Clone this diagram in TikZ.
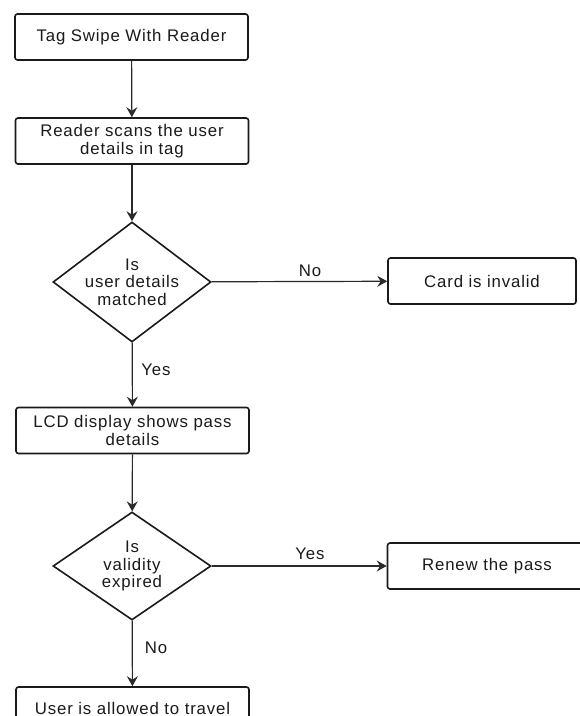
\documentclass[tikz,border=0pt]{standalone}
\usepackage{fontspec}
\setmainfont{Liberation Sans}[LetterSpace=5]
\usetikzlibrary{shapes.geometric,arrows.meta}
\definecolor{ink}{HTML}{1A1A1A}
\definecolor{wire}{HTML}{2A2A2A}
\begin{document}
\begin{tikzpicture}[x=1pt,y=-1pt,
  every node/.style={font=\fontsize{16.8}{17.5}\selectfont, text=ink},
  procbox/.style={draw=ink, line width=1.6pt, rounded corners=2.5pt, fill=white,
    minimum width=233pt, minimum height=46pt, align=center, inner sep=0pt},
  decision/.style={draw=ink, line width=1.6pt, shape=diamond, fill=white,
    minimum width=158pt, minimum height=120pt, align=center, inner sep=-16pt, aspect=1.3},
  flow/.style={draw=wire, line width=1.2pt, -{Stealth[length=10pt,width=11pt,inset=3.5pt]}},
  lbl/.style={inner sep=1pt, fill=none}]
\useasboundingbox (0,0) rectangle (580,716);
\clip (0,0) rectangle (580,716);
\node[procbox] (b1) at (131.5,37) {Tag Swipe With Reader};
\node[procbox] (b2) at (132,141) {Reader scans the user\\details in tag};
\node[decision] (d1) at (132,282) {Is\\user details\\matched};
\node[procbox, minimum width=188pt] (inv) at (482,281) {Card is invalid};
\node[procbox] (b3) at (132.5,430.5) {LCD display shows pass\\details};
\node[decision, minimum height=108pt] (d2) at (132,566) {Is\\validity\\expired};
\node[procbox] (ren) at (504,566) {\hspace*{-34pt}Renew the pass};
\node[procbox] (b4) at (132.5,710) {\raisebox{2.5pt}{User is allowed to travel}};
\draw[flow] (b1) -- (b2);
\draw[flow] (b2) -- (d1);
\draw[flow] (d1) -- (b3);
\draw[flow] (b3) -- (d2);
\draw[flow] (d2) -- (b4);
\draw[flow] (d1) -- (inv);
\draw[flow] (d2) -- (ren);
\node[lbl] (lno1) at (310,271) {No};
\node[lbl] (lyes1) at (156,370) {Yes};
\node[lbl] (lyes2) at (310,554) {Yes};
\node[lbl] (lno2) at (156,648) {No};
\end{tikzpicture}
\end{document}
